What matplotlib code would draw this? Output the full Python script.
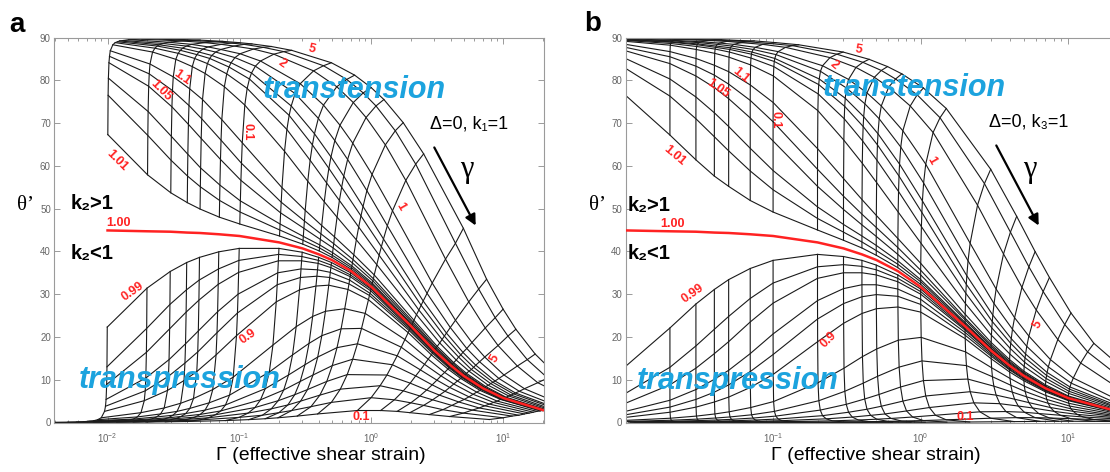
import numpy as np
import matplotlib.pyplot as plt
from matplotlib.patches import FancyArrowPatch
from matplotlib.ticker import LogLocator, NullFormatter

plt.rcParams['font.family'] = ['Liberation Sans', 'DejaVu Sans']
plt.rcParams['mathtext.default'] = 'regular'

W, H = 1110, 472

# gamma of each constant-gamma line (table columns)
gammas = [0.01, 0.02, 0.03, 0.04, 0.05, 0.07, 0.1, 0.2, 0.3, 0.4, 0.5, 0.7, 1, 2, 3, 4, 5, 7, 10, 20]
# k2 of each curve (table rows)
k2_values = [0.1, 0.2, 0.3, 0.4, 0.5, 0.6, 0.7, 0.8, 0.9, 0.93, 0.95, 0.97, 0.98, 0.99,
             1.0, 1.01, 1.02, 1.03, 1.05, 1.07, 1.1, 1.2, 1.3, 1.4, 1.5, 1.7, 2, 3, 4, 5]

# panel a (k1=1): Gamma/gamma along each k2 curve
ratio_a = [0.391, 0.497, 0.581, 0.655, 0.721, 0.783, 0.841, 0.896, 0.949, 0.965, 0.975, 0.985, 0.990, 0.995,
           1.0, 1.005, 1.010, 1.015, 1.025, 1.035, 1.049, 1.097, 1.143, 1.189, 1.233, 1.319, 1.443, 1.820,
           2.164, 2.485]
# panel a: theta' (deg) at each gamma, one row per k2
theta_a = [
    [0.02, 0.05, 0.07, 0.09, 0.11, 0.16, 0.23, 0.45, 0.67, 0.88, 1.1, 1.5, 2.0, 2.8, 2.8, 2.6, 2.3, 1.85, 1.4, 0.7],
    [0.06, 0.12, 0.18, 0.24, 0.3, 0.41, 0.6, 1.2, 1.7, 2.3, 2.8, 3.7, 4.7, 5.8, 5.3, 4.6, 4.0, 3.0, 2.2, 1.1],
    [0.11, 0.22, 0.33, 0.44, 0.55, 0.77, 1.1, 2.2, 3.2, 4.1, 5.0, 6.4, 7.8, 8.6, 7.4, 6.2, 5.3, 4.0, 2.9, 1.5],
    [0.18, 0.36, 0.54, 0.71, 0.9, 1.25, 1.8, 3.5, 5.1, 6.5, 7.7, 9.6, 11.2, 11.1, 9.2, 7.6, 6.4, 4.8, 3.4, 1.7],
    [0.3, 0.55, 0.83, 1.1, 1.4, 1.9, 2.7, 5.3, 7.6, 9.6, 11.1, 13.3, 14.8, 13.5, 10.9, 8.8, 7.3, 5.4, 3.9, 2.0],
    [0.4, 0.8, 1.3, 1.7, 2.1, 2.9, 4.1, 7.9, 11.1, 13.5, 15.3, 17.5, 18.4, 15.6, 12.3, 9.9, 8.2, 6.0, 4.3, 2.2],
    [0.66, 1.3, 2.0, 2.6, 3.3, 4.6, 6.4, 11.8, 15.8, 18.5, 20.3, 21.9, 22.0, 17.6, 13.6, 10.9, 9.0, 6.6, 4.7, 2.4],
    [1.1, 2.3, 3.4, 4.5, 5.6, 7.7, 10.6, 18.1, 22.4, 24.8, 26.0, 26.6, 25.5, 19.4, 14.8, 11.7, 9.7, 7.1, 5.0, 2.6],
    [2.6, 5.1, 7.5, 9.8, 11.9, 15.8, 20.3, 28.2, 31.0, 31.9, 32.1, 31.1, 28.7, 21.0, 15.8, 12.5, 10.3, 7.5, 5.4, 2.7],
    [3.8, 7.4, 10.8, 13.9, 16.5, 21.0, 25.6, 32.2, 33.9, 34.2, 33.9, 32.4, 29.7, 21.5, 16.2, 12.8, 10.5, 7.7, 5.4, 2.8],
    [5.4, 10.4, 14.7, 18.4, 21.4, 25.9, 30.0, 35.0, 35.9, 35.7, 35.1, 33.3, 30.2, 21.8, 16.4, 12.9, 10.6, 7.8, 5.5, 2.8],
    [8.9, 16.4, 21.9, 25.8, 28.6, 32.3, 35.1, 37.8, 37.8, 37.2, 36.2, 34.1, 30.8, 22.0, 16.5, 13.05, 10.7, 7.9, 5.6, 2.8],
    [13.0, 22.0, 27.6, 31.0, 33.3, 35.9, 37.9, 39.3, 38.8, 37.9, 36.8, 34.5, 31.2, 22.2, 16.6, 13.1, 10.8, 7.9, 5.6, 2.8],
    [22.3, 31.4, 35.3, 37.4, 38.6, 39.9, 40.7, 40.7, 39.8, 38.6, 37.4, 35.0, 31.4, 22.4, 16.7, 13.2, 10.8, 7.9, 5.6, 2.8],
    [44.9, 44.7, 44.6, 44.4, 44.3, 44.0, 43.6, 42.1, 40.7, 39.3, 38.0, 35.4, 31.7, 22.5, 16.8, 13.3, 10.9, 8.0, 5.7, 2.9],
    [67.3, 57.9, 53.7, 51.4, 49.9, 48.0, 46.4, 43.6, 41.7, 40.1, 38.6, 35.8, 32.0, 22.6, 16.9, 13.4, 11.0, 8.0, 5.7, 2.9],
    [76.5, 67.1, 61.3, 57.6, 55.1, 51.9, 49.2, 45.0, 42.6, 40.8, 39.1, 36.2, 32.3, 22.8, 17.0, 13.4, 11.0, 8.1, 5.7, 2.9],
    [80.5, 72.7, 66.9, 62.7, 59.5, 55.5, 51.8, 46.4, 43.5, 41.5, 39.7, 36.6, 32.6, 22.9, 17.1, 13.5, 11.0, 8.1, 5.7, 2.9],
    [84.1, 78.6, 73.8, 69.7, 66.4, 61.5, 56.6, 49.0, 45.4, 42.8, 40.8, 37.3, 33.1, 23.2, 17.3, 13.6, 11.1, 8.2, 5.8, 2.9],
    [85.6, 81.5, 77.6, 74.1, 71.0, 66.0, 60.6, 51.5, 47.1, 44.1, 41.8, 38.1, 33.6, 23.5, 17.5, 13.8, 11.3, 8.2, 5.8, 3.0],
    [86.9, 83.8, 80.8, 78.0, 75.5, 70.8, 65.4, 54.9, 49.6, 46.05, 43.4, 39.2, 34.5, 23.9, 17.8, 14.0, 11.5, 8.4, 5.9, 3.0],
    [88.3, 86.6, 84.9, 83.2, 81.6, 78.5, 74.2, 63.4, 56.4, 51.6, 48.0, 42.7, 36.9, 25.2, 18.6, 14.6, 12.0, 8.7, 6.2, 3.1],
    [88.8, 87.5, 86.3, 85.1, 83.9, 81.5, 78.1, 68.5, 61.3, 56.0, 51.9, 45.7, 39.1, 26.3, 19.4, 15.3, 12.4, 9.1, 6.4, 3.2],
    [89.0, 88.0, 87.0, 86.0, 85.1, 83.1, 80.3, 71.8, 64.9, 59.4, 55.0, 48.3, 41.1, 27.4, 20.2, 15.8, 12.9, 9.4, 6.7, 3.4],
    [89.2, 88.3, 87.5, 86.6, 85.8, 84.1, 81.7, 74.0, 67.5, 62.1, 57.6, 50.5, 42.9, 28.4, 20.9, 16.4, 13.4, 9.7, 6.9, 3.5],
    [89.3, 88.6, 88.0, 87.3, 86.6, 85.3, 83.3, 76.9, 71.1, 65.9, 61.5, 54.2, 46.0, 30.2, 22.2, 17.3, 14.2, 10.3, 7.3, 3.7],
    [89.5, 88.9, 88.4, 87.8, 87.2, 86.2, 84.5, 79.2, 74.2, 69.5, 65.3, 58.0, 49.5, 32.6, 23.9, 18.7, 15.3, 11.1, 7.9, 4.0],
    [89.6, 89.2, 88.8, 88.4, 88.0, 87.3, 86.1, 82.2, 78.5, 74.8, 71.3, 64.9, 56.6, 38.2, 28.2, 22.1, 18.0, 13.2, 9.3, 4.7],
    [89.7, 89.3, 89.0, 88.7, 88.4, 87.7, 86.7, 83.4, 80.2, 77.05, 74.0, 68.2, 60.4, 41.9, 31.2, 24.5, 20.2, 14.7, 10.4, 5.3],
    [89.7, 89.4, 89.1, 88.8, 88.5, 87.9, 87.0, 84.1, 81.2, 78.3, 75.5, 70.1, 62.8, 45.4, 33.5, 26.5, 21.8, 16.0, 11.3, 5.7],
]

# panel b (k3=1)
ratio_b = [2.150, 1.491, 1.260, 1.146, 1.082, 1.044, 1.021, 1.008, 1.002, 1.001, 1.0, 1.0, 1.0, 1.0,
           1.0, 1.0, 1.0, 1.0, 1.0, 1.0, 1.0015, 1.0055, 1.0115, 1.019, 1.0275, 1.047, 1.082, 1.214,
           1.3525, 1.491]
theta_b = [
    [0.0, 0.0, 0.0, 0.005, 0.01, 0.01, 0.01, 0.02, 0.04, 0.05, 0.06, 0.08, 0.12, 0.21, 0.26, 0.28, 0.29, 0.26, 0.22, 0.11],
    [0.01, 0.01, 0.02, 0.03, 0.03, 0.05, 0.07, 0.14, 0.2, 0.27, 0.33, 0.46, 0.63, 1.0, 1.14, 1.13, 1.06, 0.89, 0.69, 0.37],
    [0.02, 0.04, 0.06, 0.08, 0.1, 0.14, 0.2, 0.39, 0.58, 0.77, 0.95, 1.28, 1.7, 2.5, 2.56, 2.4, 2.1, 1.7, 1.3, 0.67],
    [0.04, 0.09, 0.13, 0.17, 0.22, 0.3, 0.43, 0.86, 1.27, 1.67, 2.0, 2.7, 3.5, 4.6, 4.4, 3.85, 3.4, 2.6, 1.9, 1.0],
    [0.08, 0.17, 0.25, 0.33, 0.41, 0.58, 0.82, 1.6, 2.4, 3.1, 3.8, 5.0, 6.2, 7.2, 6.4, 5.45, 4.65, 3.5, 2.6, 1.3],
    [0.15, 0.3, 0.45, 0.59, 0.74, 1.04, 1.5, 2.9, 4.25, 5.5, 6.55, 8.3, 9.8, 10.15, 8.5, 7.1, 6.0, 4.5, 3.2, 1.6],
    [0.26, 0.53, 0.79, 1.05, 1.3, 1.8, 2.6, 5.1, 7.3, 9.2, 10.8, 12.95, 14.4, 13.3, 10.7, 8.7, 7.25, 5.4, 3.85, 1.95],
    [0.5, 1.0, 1.5, 2.0, 2.5, 3.5, 4.9, 9.3, 12.7, 15.4, 17.2, 19.25, 19.9, 16.5, 12.8, 10.3, 8.5, 6.3, 4.5, 2.3],
    [1.2, 2.4, 3.6, 4.8, 5.95, 8.2, 11.25, 18.9, 23.2, 25.5, 26.6, 27.0, 25.8, 19.6, 14.9, 11.8, 9.75, 7.15, 5.1, 2.6],
    [1.8, 3.6, 5.4, 7.1, 8.8, 11.9, 15.9, 24.2, 27.8, 29.4, 29.9, 29.5, 27.6, 20.4, 15.5, 12.3, 10.1, 7.4, 5.25, 2.7],
    [2.6, 5.2, 7.7, 10.1, 12.2, 16.1, 20.7, 28.5, 31.3, 32.2, 32.2, 31.2, 28.8, 21.05, 15.9, 12.5, 10.3, 7.6, 5.4, 2.7],
    [4.5, 8.8, 12.7, 16.1, 18.9, 23.5, 27.9, 33.7, 35.0, 35.0, 34.5, 32.9, 30.0, 21.6, 16.3, 12.8, 10.6, 7.7, 5.5, 2.8],
    [6.8, 12.9, 17.9, 21.8, 24.8, 29.0, 32.6, 36.4, 36.9, 36.5, 35.7, 33.7, 30.6, 21.9, 16.5, 13.0, 10.7, 7.8, 5.5, 2.8],
    [13.1, 22.1, 27.7, 31.1, 33.4, 36.0, 37.9, 39.3, 38.8, 37.9, 36.8, 34.5, 31.2, 22.2, 16.6, 13.1, 10.8, 7.9, 5.6, 2.8],
    [44.9, 44.7, 44.6, 44.4, 44.3, 44.0, 43.6, 42.1, 40.7, 39.3, 38.0, 35.4, 31.7, 22.5, 16.8, 13.3, 10.9, 8.0, 5.7, 2.9],
    [76.5, 67.2, 61.4, 57.6, 55.2, 51.9, 49.2, 45.0, 42.6, 40.8, 39.1, 36.2, 32.3, 22.8, 17.0, 13.4, 11.0, 8.1, 5.7, 2.9],
    [82.8, 76.3, 71.0, 66.8, 63.5, 58.8, 54.4, 47.7, 44.5, 42.2, 40.2, 37.0, 32.9, 23.1, 17.3, 13.6, 11.1, 8.1, 5.8, 2.9],
    [85.1, 80.3, 76.1, 72.4, 69.2, 64.1, 58.9, 50.4, 46.3, 43.6, 41.4, 37.8, 33.4, 23.4, 17.4, 13.7, 11.2, 8.2, 5.8, 2.9],
    [86.9, 83.9, 81.0, 78.3, 75.7, 71.2, 65.8, 55.2, 49.8, 46.2, 43.5, 39.3, 34.5, 24.0, 17.8, 14.0, 11.5, 8.4, 5.9, 3.0],
    [87.7, 85.5, 83.3, 81.2, 79.1, 75.3, 70.3, 59.2, 52.9, 48.7, 45.6, 40.9, 35.6, 24.4, 18.2, 14.3, 11.7, 8.5, 6.0, 3.05],
    [88.4, 86.7, 85.1, 83.5, 82.0, 78.9, 74.8, 64.0, 57.0, 52.1, 48.4, 43.0, 37.2, 25.3, 18.7, 14.7, 12.0, 8.8, 6.2, 3.15],
    [89.1, 88.2, 87.2, 86.3, 85.4, 83.6, 81.0, 72.9, 66.0, 60.6, 56.1, 49.2, 41.9, 27.8, 20.4, 16.0, 13.1, 9.6, 6.8, 3.4],
    [89.3, 88.6, 87.9, 87.3, 86.6, 85.2, 83.2, 76.8, 71.0, 65.8, 61.3, 54.0, 45.8, 30.2, 22.1, 17.3, 14.1, 10.3, 7.3, 3.7],
    [89.4, 88.9, 88.3, 87.7, 87.2, 86.1, 84.4, 79.0, 73.9, 69.2, 64.9, 57.6, 49.1, 32.3, 23.6, 18.5, 15.1, 11.0, 7.8, 3.9],
    [89.5, 89.0, 88.5, 88.0, 87.6, 86.6, 85.1, 80.3, 75.8, 71.5, 67.5, 60.4, 51.8, 34.3, 25.1, 19.6, 16.0, 11.7, 8.3, 4.2],
    [89.6, 89.2, 88.8, 88.4, 88.0, 87.2, 86.0, 82.1, 78.2, 74.5, 71.0, 64.4, 56.0, 37.8, 27.8, 21.8, 17.8, 13.0, 9.2, 4.6],
    [89.7, 89.3, 89.0, 88.7, 88.4, 87.7, 86.7, 83.4, 80.2, 77.05, 74.0, 68.2, 60.4, 41.9, 31.2, 24.5, 20.2, 14.7, 10.4, 5.3],
    [89.8, 89.5, 89.3, 89.1, 88.8, 88.4, 87.7, 85.3, 83.0, 80.7, 78.4, 74.0, 67.8, 50.8, 39.4, 31.6, 26.3, 19.4, 13.9, 7.0],
    [89.8, 89.6, 89.4, 89.2, 89.0, 88.6, 88.1, 86.1, 84.2, 82.3, 80.3, 76.6, 71.25, 55.85, 44.5, 36.4, 30.6, 22.9, 16.5, 8.4],
    [89.8, 89.7, 89.5, 89.3, 89.2, 88.8, 88.3, 86.6, 84.9, 83.2, 81.5, 78.2, 73.4, 59.2, 48.2, 39.95, 33.9, 25.6, 18.5, 9.5],
]

LINE = '#1a1a1a'
RED = '#ff2222'
BLUE = '#1ca3de'


def px(x, y):
    return x / W, 1 - y / H


fig = plt.figure(figsize=(W / 100, H / 100), dpi=100)


def make_panel(left, xlim, ratio, theta, xticks):
    ax = fig.add_axes([left / W, 1 - 422.5 / H, 490 / W, 385 / H])
    G = np.outer(ratio, gammas)
    T = np.array(theta)
    k = np.array(k2_values)
    # constant-k2 curves
    for i, kv in enumerate(k2_values):
        if kv != 1.0:
            ax.plot(G[i], T[i], color=LINE, lw=0.8)
    # constant-gamma lines, drawn separately on each side of k2=1
    for side in (k < 1, k > 1):
        for j in range(len(gammas)):
            ax.plot(G[side, j], T[side, j], color=LINE, lw=0.8)
    i1 = k2_values.index(1.0)
    ax.plot(G[i1], T[i1], color=RED, lw=1.8, zorder=5)

    ax.set_xscale('log')
    ax.set_xlim(*xlim)
    ax.set_ylim(0, 90)
    ax.set_yticks(range(0, 91, 10))
    ax.set_xticks(xticks)
    ax.xaxis.set_minor_locator(LogLocator(base=10, subs=range(2, 10)))
    ax.xaxis.set_minor_formatter(NullFormatter())
    ax.tick_params(which='both', direction='in', top=True, right=True,
                   color='#8a8a8a', labelcolor='#666666', labelsize=7, width=0.6)
    ax.tick_params(which='major', length=4)
    ax.tick_params(which='minor', length=2)
    ax.tick_params(axis='x', pad=6)
    ax.tick_params(axis='y', pad=2.5)
    for s in ax.spines.values():
        s.set_color('#9a9a9a')
        s.set_linewidth(0.8)
    return ax


ax_a = make_panel(54.3, (0.00395, 20.4), ratio_a, theta_a, [1e-2, 1e-1, 1, 10])
ax_b = make_panel(625.5, (0.01, 20.9), ratio_b, theta_b, [1e-1, 1, 10])

red_kw = dict(color=RED, fontsize=9, fontweight='bold', ha='center', va='center')
for s, x, y, r in [("5", 0.354, 87.2, -15), ("2", 0.21, 84.0, -35), ("1.1", 0.0365, 80.7, -35),
                   ("1.05", 0.0253, 77.7, -45), ("0.1", 0.1156, 67.9, -90), ("1.01", 0.0119, 61.3, -45),
                   ("1", 1.65, 50.4, -60), ("1.00", 0.0122, 46.6, 0), ("0.99", 0.0155, 30.6, 35),
                   ("0.9", 0.1156, 20.0, 35), ("5", 8.6, 15.0, 60), ("0.1", 0.83, 1.2, 0)]:
    ax_a.text(x, y, s, rotation=r, **red_kw)
for s, x, y, r in [("5", 0.382, 87.2, -10), ("2", 0.259, 83.5, -40), ("1.1", 0.0605, 81.2, -40),
                   ("1.05", 0.0425, 78.0, -35), ("0.1", 0.104, 70.7, -90), ("1.01", 0.0216, 62.5, -40),
                   ("1", 1.19, 61.3, -60), ("1.00", 0.0209, 46.5, 0), ("0.99", 0.0286, 30.2, 35),
                   ("0.9", 0.238, 19.3, 45), ("5", 6.2, 22.8, 60), ("0.1", 2.0, 1.4, 0)]:
    ax_b.text(x, y, s, rotation=r, **red_kw)

# panel letters, axis titles and annotations
fig.text(*px(17, 25), 'a', fontsize=20, fontweight='bold', ha='center', va='center')
fig.text(*px(593, 24), 'b', fontsize=20, fontweight='bold', ha='center', va='center')
for x in (26, 598):
    fig.text(*px(x, 206), 'θ’', fontsize=15, family='Liberation Serif', ha='center', va='center')
for x in (321, 876):
    fig.text(*px(x, 456), 'Γ (effective shear strain)', fontsize=14, ha='center', va='center')

blue_kw = dict(color=BLUE, fontsize=22, fontweight='bold', fontstyle='italic', ha='center', va='center')
fig.text(*px(354, 90), 'transtension', **blue_kw)
fig.text(*px(914, 88), 'transtension', **blue_kw)
fig.text(*px(180, 380), 'transpression', **blue_kw)
fig.text(*px(738, 381), 'transpression', **blue_kw)

k_kw = dict(fontsize=14.5, fontweight='bold', ha='center', va='center')
fig.text(*px(92, 203), 'k₂>1', **k_kw)
fig.text(*px(92, 254), 'k₂<1', **k_kw)
fig.text(*px(649, 205), 'k₂>1', **k_kw)
fig.text(*px(649, 254), 'k₂<1', **k_kw)

fig.text(*px(469, 124), 'Δ=0, k₁=1', fontsize=13, ha='center', va='center')
fig.text(*px(1029, 122), 'Δ=0, k₃=1', fontsize=13, ha='center', va='center')
for (x0, y0, x1, y1, gx) in [(433, 145, 477, 228, 467), (995, 143, 1040, 228, 1030)]:
    fig.add_artist(FancyArrowPatch(px(x0, y0), px(x1, y1), transform=fig.transFigure,
                                   arrowstyle='-|>', mutation_scale=16, lw=1.6, color='black'))
    fig.text(*px(gx, 170), 'γ', fontsize=22, family='Liberation Serif', ha='center', va='center')

fig.savefig('out.png', dpi=100)
